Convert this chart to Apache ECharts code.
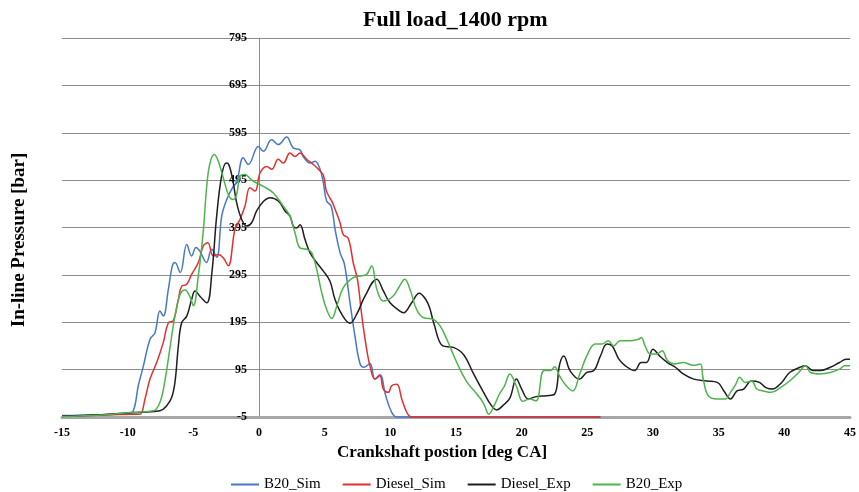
<!DOCTYPE html>
<html><head><meta charset="utf-8">
<script src="https://cdn.jsdelivr.net/npm/echarts@6/dist/echarts.min.js"></script>
<style>html,body{margin:0;padding:0;background:#fff}#c{width:859px;height:492px}</style>
</head><body><div id="c"></div>
<script>
const seriesNames = ['B20_Sim', 'Diesel_Sim', 'Diesel_Exp', 'B20_Exp'];
const seriesColors = ['#4677c8', '#e03030', '#1e1e1e', '#4db34d'];

const b20SimX = [-15,-12,-10,-9.57,-9.19,-8.8,-8.3,-7.92,-7.54,-7.29,-6.9,-6.6,-6.4,-6.0,-5.5,-5.13,-4.8,-4.5,-4.0,-3.6,-3.22,-2.84,-2.46,-1.96,-1.7,-1.2,-0.81,-0.05,0.33,0.96,1.47,2.1,2.6,3.12,3.37,3.88,4.27,4.65,4.9,5.15,5.5,5.8,6.17,6.5,6.93,7.31,7.69,8.0,8.45,8.83,9.2,9.65,10.1,10.5,26];
const b20SimY = [-2,0,3,8,61,103,159,173,219,208,265,314,321,300,359,335,353,345,321,349,332,419,454,482,490,542,528,566,556,580,570,586,563,559,545,531,535,518,489,451,440,390,342,318,236,165,108,100,108,75,84,40,5,-5,-5];

const dieselSimX = [-15,-12,-9.5,-9.06,-8.68,-8.3,-7.79,-7.29,-6.9,-6.53,-6.14,-5.89,-5.5,-5.13,-4.62,-4.24,-3.9,-3.48,-3.1,-2.72,-2.34,-1.83,-1.45,-1.07,-0.69,-0.3,0.08,0.58,0.97,1.47,1.85,2.36,2.74,3.12,3.63,4.14,4.52,4.9,5.1,5.3,5.55,5.8,6.17,6.42,6.8,7.18,7.5,7.8,8.1,8.45,8.83,9.2,9.47,9.85,10.1,10.5,10.87,11.25,11.6,26];
const dieselSimY = [-3,-1,1,1,33,75,110,152,194,198,243,271,275,296,321,356,363,335,338,331,314,391,412,440,479,472,510,524,518,539,531,552,545,552,539,528,518,505,475,462,450,433,405,380,372,320,285,215,155,103,75,82,54,47,61,64,33,5,-5,-5];

const dieselExpX = [-15,-12,-9,-7.54,-7.03,-6.65,-6.4,-6.14,-5.89,-5.5,-5.13,-4.87,-4.5,-3.98,-3.6,-3.22,-2.84,-2.5,-2.3,-2.0,-1.7,-1.32,-0.94,-0.56,-0.18,0.33,0.84,1.47,1.98,2.36,2.61,2.87,3.12,3.5,3.88,4.39,4.9,5.4,5.79,6.3,6.93,7.44,8.07,8.96,9.47,9.98,10.7,11.0,11.6,12.2,12.7,13.0,13.3,14.0,14.8,15.6,16.3,17.1,17.7,18.1,18.6,19.1,19.6,20.0,20.5,21.1,21.9,22.5,22.9,23.2,23.7,24.4,24.96,25.5,26.0,26.5,26.9,27.4,27.9,28.6,29.1,29.5,30.0,30.5,31.1,31.7,32.3,33.1,34.1,34.9,35.4,35.9,36.4,36.9,37.5,38.1,38.6,39.1,39.8,40.4,41.2,41.6,42.2,42.7,43.5,44.2,44.7,45];
const dieselExpY = [-3,0,5,8,19,36,68,145,194,208,243,261,250,236,296,420,505,531,528,496,447,412,398,405,430,450,458,451,430,419,398,394,401,370,342,321,303,282,243,212,193,212,250,286,261,236,219,215,235,256,243,225,194,145,142,126,88,47,19,10,20,35,75,54,33,38,40,43,107,124,92,75,89,93,124,149,145,117,103,93,110,110,138,124,110,100,86,75,71,68,50,33,50,54,71,68,57,54,68,89,100,103,93,93,100,110,117,117];

const b20ExpX = [-15,-12,-9.6,-8.05,-7.54,-7.16,-6.78,-6.4,-6.0,-5.64,-5.26,-5.0,-4.62,-4.24,-3.98,-3.73,-3.4,-3.1,-2.72,-2.3,-1.96,-1.7,-1.45,-1.07,-0.6,-0.18,0.33,1.09,1.85,2.36,2.74,3.12,3.63,4.01,4.39,4.77,5.15,5.54,5.92,6.42,7.18,7.82,8.2,8.58,8.96,9.47,10.2,10.7,11.1,11.5,12.0,12.5,13.3,13.8,14.3,15.06,15.8,16.6,17.1,17.5,17.9,18.3,18.7,19.1,19.6,20.1,20.6,21.1,21.7,22.2,22.5,22.9,23.4,23.9,24.4,24.96,25.6,26.1,26.6,27.0,27.5,28.3,28.9,29.1,29.4,29.8,30.3,30.7,31.1,31.6,32.3,33.1,33.6,33.8,34.2,34.9,35.5,35.9,36.3,36.6,37.0,37.5,37.9,38.4,39.0,39.7,40.4,41.1,41.6,42.0,42.7,43.5,44.2,44.6,45];
const b20ExpY = [-4,-1,5,8,26,72,141,208,254,263,249,230,293,388,482,531,549,535,500,462,454,465,503,507,496,489,482,468,440,419,384,352,349,342,307,258,222,203,229,268,289,293,296,314,266,240,250,271,286,264,222,205,201,187,159,110,70,43,24,1,19,43,61,86,60,28,33,29,93,93,101,81,61,50,84,124,149,149,156,145,156,156,159,163,145,128,128,135,114,107,110,104,107,79,40,33,33,47,64,79,68,71,54,50,47,57,71,89,103,89,86,89,96,103,103];

const seriesX = [b20SimX, dieselSimX, dieselExpX, b20ExpX];
const seriesY = [b20SimY, dieselSimY, dieselExpY, b20ExpY];

const serif = '"Liberation Serif", "Times New Roman", serif';
const chart = echarts.init(document.getElementById('c'));
chart.setOption({
  animation: false,
  backgroundColor: '#fff',
  title: {
    text: 'Full load_1400 rpm',
    left: 358, top: 4,
    textStyle: { fontFamily: serif, fontWeight: 'bold', fontSize: 22, color: '#000' }
  },
  legend: {
    data: seriesNames,
    left: 226, top: 472,
    icon: 'rect',
    itemWidth: 28, itemHeight: 2, itemGap: 22,
    textStyle: { fontFamily: serif, fontSize: 15, color: '#000' }
  },
  grid: { left: 62, right: 9, top: 38, bottom: 75 },
  xAxis: {
    type: 'value', min: -15, max: 45, interval: 5,
    name: 'Crankshaft postion [deg CA]', nameLocation: 'middle', nameGap: 25,
    nameTextStyle: { fontFamily: serif, fontWeight: 'bold', fontSize: 17, color: '#000', padding: [0, 28, 0, 0] },
    axisLine: { onZero: false, lineStyle: { color: '#a6a6a6', width: 3 } },
    axisTick: { show: false },
    splitLine: { show: false },
    axisLabel: { fontFamily: serif, fontWeight: 'bold', fontSize: 12, color: '#000', margin: 10 }
  },
  yAxis: {
    type: 'value', min: -5, max: 795, interval: 100,
    position: 'left', offset: -197,
    axisLine: { show: true, onZero: false, lineStyle: { color: '#8c8c8c', width: 1 } },
    axisTick: { show: false },
    splitLine: { show: true, lineStyle: { color: '#8c8c8c', width: 1 } },
    axisLabel: { fontFamily: serif, fontWeight: 'bold', fontSize: 12, color: '#000', margin: 12 }
  },
  graphic: [{
    type: 'text', x: 19, y: 240, rotation: Math.PI / 2,
    style: { text: 'In-line Pressure [bar]', font: 'bold 19px ' + serif, fill: '#000', textAlign: 'center', textVerticalAlign: 'middle' }
  }],
  series: seriesNames.map((name, i) => ({
    name, type: 'line', symbol: 'none', smooth: 0.4, clip: false,
    color: seriesColors[i],
    lineStyle: { width: 1.5, color: seriesColors[i] },
    data: seriesX[i].map((x, j) => [x, seriesY[i][j]])
  }))
});
</script></body></html>
